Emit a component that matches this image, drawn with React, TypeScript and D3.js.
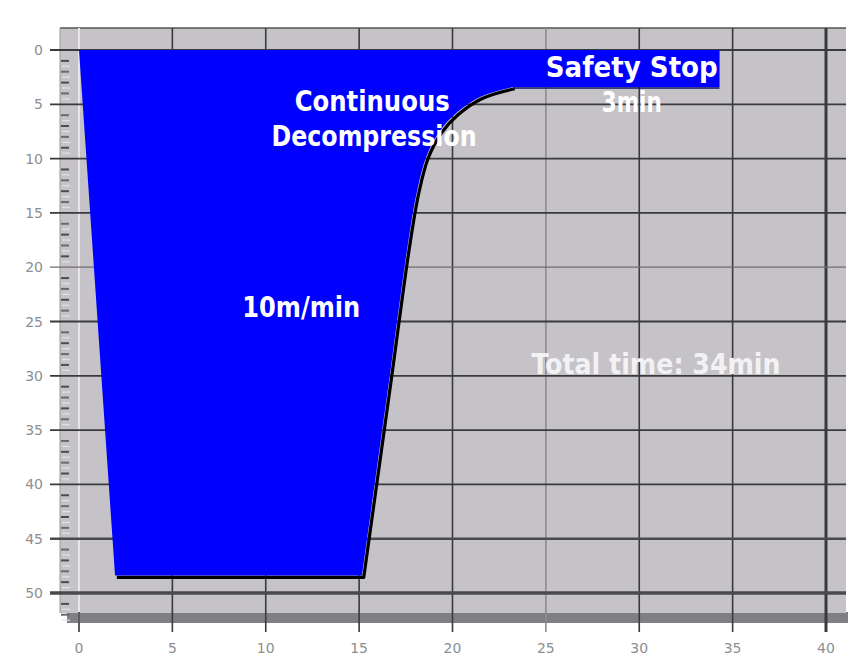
import React from "react";
import * as d3 from "d3";

// ---- data ----
const timeTicks = [0, 5, 10, 15, 20, 25, 30, 35, 40];
const depthTicks = [0, 5, 10, 15, 20, 25, 30, 35, 40, 45, 50];
// descent + bottom phase
const descentTime = [0, 1.93, 15.15];
const descentDepth = [0, 48.4, 48.4];
// continuous decompression ascent
const ascentTime = [15.15, 16.6, 17.6, 18.1, 18.6, 19.3, 20.2, 21.5, 23.24];
const ascentDepth = [48.4, 30.5, 18, 13, 9.8, 7.5, 5.8, 4.3, 3.4];
// safety stop
const stopTime = [23.24, 34.3];
const stopDepth = [3.4, 3.4];

const labelTexts = ["Continuous", "Decompression", "10m/min", "Safety Stop", "3min", "Total time: 34min"];
const labelTime = [15.7, 15.8, 11.9, 29.6, 29.6, 30.9];
const labelDepth = [5.6, 8.8, 24.6, 2.5, 5.7, 29.8];
const labelWidth = [155, 205, 118, 172, 60, 249];

const W = 848;
const H = 657;

export default function App() {
  const x = d3.scaleLinear().domain([0, 40]).range([79, 826]);
  const y = d3.scaleLinear().domain([0, 50]).range([50, 593]);

  const descentPts = descentTime.map((t, i) => [t, descentDepth[i]] as [number, number]);
  const ascentPts = ascentTime.map((t, i) => [t, ascentDepth[i]] as [number, number]);
  const stopPts = stopTime.map((t, i) => [t, stopDepth[i]] as [number, number]);

  const lin = d3
    .line<[number, number]>()
    .x((d) => x(d[0]))
    .y((d) => y(d[1]))
    .curve(d3.curveLinear);
  const smooth = d3
    .line<[number, number]>()
    .x((d) => x(d[0]))
    .y((d) => y(d[1]))
    .curve(d3.curveCatmullRom.alpha(0.5));

  const descentStr = lin(descentPts) || "";
  const ascentStr = (smooth(ascentPts) || "").replace(/^M[^CLQ]*/, "");
  const stopStr = (lin(stopPts) || "").replace(/^M/, "L");
  const profilePath =
    descentStr + ascentStr + stopStr + `L${x(stopTime[1])},${y(0)}Z`;

  const outlinePath =
    (lin(descentPts.slice(1)) || "") + ascentStr;
  const stopEdgePath = lin(stopPts) || "";

  const plotLeft = 60;
  const plotTop = 28;
  const plotRight = 846;
  const plotBottom = 613;

  const minor = d3.range(1, 53).filter((d) => d % 5 !== 0);

  const font = "'DejaVu Sans Condensed', 'Liberation Sans Narrow', 'DejaVu Sans', sans-serif";

  return (
    <svg width={W} height={H} style={{ position: "absolute", left: 0, top: 0, background: "#fff" }}>
      {/* shadow band */}
      <rect x={67} y={612} width={W - 67} height={11} fill="#807f83" />
      {/* plot background */}
      <rect x={plotLeft} y={plotTop} width={plotRight - plotLeft} height={plotBottom - plotTop} fill="#c5c3c8" />
      <line x1={plotLeft} x2={plotRight} y1={plotTop} y2={plotTop} stroke="#555" strokeWidth={1.5} />
      <line x1={plotLeft} x2={plotLeft} y1={plotTop} y2={plotBottom} stroke="#9a999c" strokeWidth={1} />
      {/* left ruler minor ticks */}
      {minor.map((d) => (
        <line key={"m" + d} x1={61} x2={69} y1={y(d)} y2={y(d)} stroke={d % 2 ? "#4d4d4f" : "#6a6a6c"} strokeWidth={2} />
      ))}
      {minor.map((d) => (
        <line key={"h" + d} x1={62} x2={70} y1={y(d + 0.5)} y2={y(d + 0.5)} stroke="#e2e1e4" strokeWidth={1.2} />
      ))}
      {/* vertical grid lines */}
      {timeTicks.map((t) => (
        <line
          key={"v" + t}
          x1={x(t)}
          x2={x(t)}
          y1={plotTop}
          y2={632}
          stroke={t === 0 ? "#e6e5e8" : t === 25 ? "#8c8b8f" : "#3a3a3c"}
          strokeWidth={t === 0 ? 2 : t === 40 ? 3 : 1.6}
        />
      ))}
      {/* x tick stubs below the plot for the light zero line */}
      <line x1={x(0)} x2={x(0)} y1={612} y2={632} stroke="#3a3a3c" strokeWidth={1.6} />
      {/* horizontal grid lines */}
      {depthTicks.map((d) => (
        <line
          key={"hz" + d}
          x1={50}
          x2={plotRight}
          y1={y(d)}
          y2={y(d)}
          stroke={d === 20 ? "#6e6d71" : d === 50 || d === 45 ? "#4a4a4c" : "#3a3a3c"}
          strokeWidth={d === 50 ? 3.5 : d === 45 ? 2.5 : d === 20 ? 1.2 : 1.8}
        />
      ))}
      {/* x tick labels */}
      {timeTicks.map((t) => (
        <text key={"xt" + t} x={x(t)} y={653} textAnchor="middle" fontFamily="'DejaVu Sans', sans-serif" fontSize={14} fill="#8e8e90">
          {t}
        </text>
      ))}
      {/* y tick labels */}
      {depthTicks.map((d) => (
        <text key={"yt" + d} x={43} y={y(d) + 5} textAnchor="end" fontFamily="'DejaVu Sans', sans-serif" fontSize={14} fill="#8e8e90">
          {d}
        </text>
      ))}
      {/* profile shadow outline */}
      <path d={outlinePath} transform="translate(1.8,1.8)" fill="none" stroke="#000" strokeWidth={3.2} strokeLinejoin="round" />
      <path d={stopEdgePath} transform="translate(0,1)" fill="none" stroke="#10106a" strokeWidth={1.5} />
      {/* dive profile */}
      <path d={profilePath} fill="#0000ff" />
      {/* annotations */}
      {labelTexts.map((s, i) => (
        <text
          key={"lb" + i}
          x={x(labelTime[i])}
          y={y(labelDepth[i])}
          textAnchor="middle"
          fontFamily={font}
          fontSize={29}
          fontWeight={700}
          fill={i === 5 ? "#f2f2f4" : "#ffffff"}
          textLength={labelWidth[i]}
          lengthAdjust="spacingAndGlyphs"
        >
          {s}
        </text>
      ))}
    </svg>
  );
}
